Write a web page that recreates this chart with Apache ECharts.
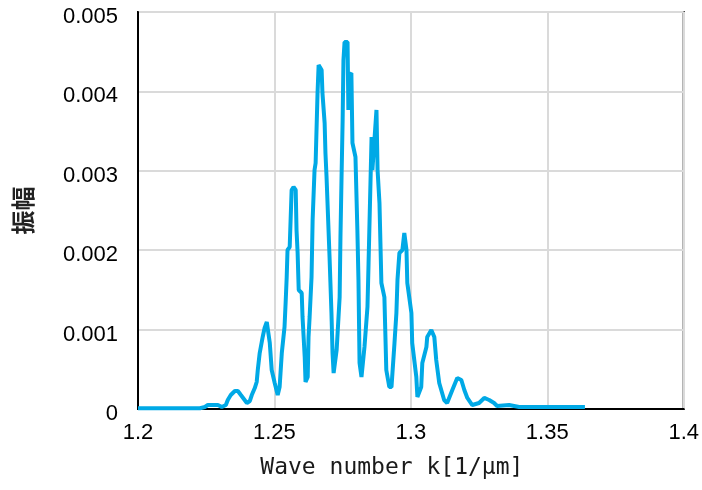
<!DOCTYPE html>
<html>
<head>
<meta charset="utf-8">
<script src="https://cdn.jsdelivr.net/npm/echarts@6/dist/echarts.min.js"></script>
<style>
html,body{margin:0;padding:0;background:#fff;}
#chart{width:702px;height:490px;}
</style>
</head>
<body>
<div id="chart"></div>
<script>
// Wave number k [1/μm]
const waveNumber = [
  1.2000, 1.2080, 1.2154, 1.2227, 1.2245, 1.2256, 1.2293, 1.2307, 1.2322, 1.2329,
  1.2340, 1.2355, 1.2366, 1.2377, 1.2388, 1.2399, 1.2410, 1.2417, 1.2428, 1.2435,
  1.2439, 1.2446, 1.2457, 1.2464, 1.2472, 1.2475, 1.2483, 1.2490, 1.2501, 1.2512,
  1.2519, 1.2527, 1.2537, 1.2541, 1.2545, 1.2548, 1.2556, 1.2563, 1.2570, 1.2578,
  1.2581, 1.2585, 1.2589, 1.2600, 1.2603, 1.2611, 1.2614, 1.2622, 1.2625, 1.2629,
  1.2636, 1.2640, 1.2647, 1.2651, 1.2658, 1.2662, 1.2673, 1.2676, 1.2684, 1.2687,
  1.2691, 1.2702, 1.2709, 1.2713, 1.2717, 1.2728, 1.2739, 1.2742, 1.2746, 1.2750,
  1.2753, 1.2757, 1.2768, 1.2771, 1.2775, 1.2782, 1.2786, 1.2797, 1.2804, 1.2808,
  1.2812, 1.2819, 1.2830, 1.2841, 1.2845, 1.2856, 1.2859, 1.2874, 1.2878, 1.2885,
  1.2892, 1.2903, 1.2910, 1.2921, 1.2929, 1.2940, 1.2947, 1.2951, 1.2958, 1.2969,
  1.2976, 1.2984, 1.2987, 1.3002, 1.3005, 1.3020, 1.3024, 1.3038, 1.3042, 1.3057,
  1.3060, 1.3075, 1.3086, 1.3093, 1.3104, 1.3122, 1.3133, 1.3152, 1.3170, 1.3185,
  1.3196, 1.3207, 1.3225, 1.3250, 1.3269, 1.3287, 1.3305, 1.3316, 1.3360, 1.3397,
  1.3506, 1.3638
];
// 振幅 (amplitude)
const amplitude = [
  0.00001, 0.00001, 0.00001, 0.00001, 0.000025, 0.00005, 0.00005, 0.000025, 0.00005, 0.000113,
  0.000176, 0.000227, 0.000227, 0.000176, 0.000126, 0.000076, 0.000101, 0.000176, 0.000264, 0.00034,
  0.000491, 0.000705, 0.000907, 0.00102, 0.001096, 0.001083, 0.000831, 0.000491, 0.000327, 0.000176,
  0.000277, 0.000705, 0.001033, 0.001335, 0.001662, 0.002002, 0.00204, 0.002758, 0.002796, 0.002758,
  0.002254, 0.001965, 0.001499, 0.001461, 0.001159, 0.000655, 0.00034, 0.000403, 0.000907, 0.001159,
  0.001662, 0.00238, 0.00301, 0.003098, 0.00398, 0.004332, 0.004269, 0.00398, 0.003602, 0.003224,
  0.002922, 0.001914, 0.001209, 0.000705, 0.000453, 0.000743, 0.00141, 0.002166, 0.002922, 0.00364,
  0.004395, 0.004622, 0.004622, 0.003766, 0.004206, 0.004232, 0.00335, 0.003174, 0.002254, 0.001625,
  0.000579, 0.000403, 0.000781, 0.001285, 0.001839, 0.003426, 0.00301, 0.003766, 0.00301, 0.002594,
  0.001587, 0.00141, 0.000491, 0.000277, 0.000277, 0.000831, 0.001209, 0.001625, 0.001965, 0.002002,
  0.002217, 0.002002, 0.001587, 0.001209, 0.000831, 0.000403, 0.000151, 0.000277, 0.000579, 0.000781,
  0.000907, 0.000995, 0.000907, 0.000617, 0.000327, 0.000113, 0.000076, 0.000239, 0.00039, 0.000365,
  0.000239, 0.000139, 0.00005, 0.000076, 0.000139, 0.000113, 0.000076, 0.000038, 0.00005, 0.000025,
  0.000025, 0.000025
];
const xTitle = 'Wave number k[1/μm]';
const yTitle = '振幅';

const seriesData = waveNumber.map((k, i) => [k, amplitude[i]]);

const chart = echarts.init(document.getElementById('chart'), null, {renderer: 'canvas'});
chart.setOption({
  animation: false,
  backgroundColor: '#ffffff',
  grid: {
    left: 138, right: 18, top: 12, bottom: 81,
    show: true, borderColor: '#000000', borderWidth: 2, backgroundColor: 'transparent'
  },
  xAxis: {
    type: 'value',
    min: 1.2, max: 1.4, interval: 0.05,
    name: xTitle,
    nameLocation: 'middle',
    nameGap: 48,
    nameTextStyle: {fontFamily: 'DejaVu Sans Mono', fontSize: 23, color: '#1a1a1a', padding: [0, 38, 0, 0]},
    axisLine: {show: true, onZero: false, lineStyle: {color: '#000', width: 2}},
    axisTick: {show: false},
    axisLabel: {
      margin: 13, fontSize: 22, color: '#000', fontFamily: 'Liberation Sans',
      formatter: v => String(+v.toFixed(2))
    },
    splitLine: {show: true, lineStyle: {color: '#dadada', width: 2}}
  },
  yAxis: {
    type: 'value',
    min: 0, max: 0.005, interval: 0.001,
    name: yTitle,
    nameLocation: 'middle',
    nameGap: 103,
    nameRotate: 90,
    nameTextStyle: {fontFamily: 'Noto Sans CJK JP', fontSize: 24, color: '#222', fontWeight: 'bold'},
    axisLine: {show: true, lineStyle: {color: '#000', width: 2}},
    axisTick: {show: false},
    axisLabel: {
      margin: 20, fontSize: 22, color: '#000', fontFamily: 'Liberation Sans',
      verticalAlign: 'top', lineHeight: 10,
      formatter: v => String(+v.toFixed(3))
    },
    splitLine: {show: true, lineStyle: {color: '#dadada', width: 2}}
  },
  series: [{
    type: 'line',
    data: seriesData,
    showSymbol: false,
    symbol: 'none',
    lineStyle: {color: '#00a9e6', width: 4},
    clip: true
  }]
});
</script>
</body>
</html>
